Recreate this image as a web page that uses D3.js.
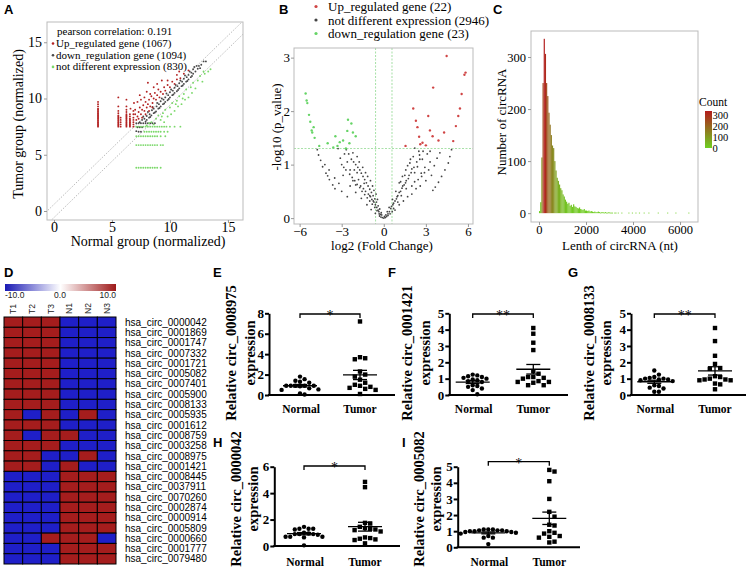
<!DOCTYPE html>
<html><head><meta charset="utf-8">
<script src="https://cdn.jsdelivr.net/npm/d3@7"></script>
<style>body{margin:0;background:#fff}svg{display:block}</style>
</head><body>
<svg id="c" width="748" height="570"></svg>
<script>
// ---------------- DATA ----------------
// Panel A: scatter (normal, tumor) normalized expression
const scatterUp = [[3.8,7.5],[3.8,7.6],[3.8,7.7],[3.8,7.8],[3.8,7.9],[3.8,8.0],[3.8,8.1],[3.8,8.2],[3.8,8.3],[3.8,8.4],[3.8,8.5],[3.8,8.6],[3.8,8.7],[3.8,8.8],[3.8,8.9],[3.8,9.0],[3.8,9.1],[3.8,9.3],[3.8,9.5],[3.8,9.7],
[5.55,7.5],[5.55,7.6],[5.55,7.7],[5.55,7.8],[5.55,7.9],[5.55,8.0],[5.55,8.1],[5.55,8.2],[5.55,8.3],[5.55,8.4],[5.55,8.5],[5.55,8.7],[5.55,8.9],[5.55,9.3],[5.55,10.1],
[5.75,7.5],[5.75,7.7],[5.75,7.9],[5.75,8.1],[5.75,8.3],
[6.25,7.5],[6.25,7.6],[6.25,7.7],[6.25,7.8],[6.25,7.9],[6.25,8.0],[6.25,8.1],[6.25,8.2],[6.25,8.3],[6.25,8.4],[6.25,8.5],[6.25,8.6],[6.25,8.8],[6.25,9.0],[6.25,9.3],[6.25,9.9],
[6.55,7.5],[6.55,7.6],[6.55,7.7],[6.55,7.8],[6.55,7.9],[6.55,8.0],[6.55,8.1],[6.55,8.2],[6.55,8.4],[6.55,8.6],
[6.85,7.5],[6.85,7.7],[6.85,7.9],[6.85,8.1],[6.85,8.3],[6.85,8.6],[6.85,8.9],
[7.1,8.1],[7.2,8.4],[7.3,8.8],[7.0,9.0],[7.4,9.2],[7.5,8.6],[7.6,9.0],[7.7,9.4],[7.8,8.9],[7.9,9.7],[8.0,9.2],[8.1,9.5],[8.2,9.9],[8.3,9.3],[8.4,10.2],[8.5,9.6],[8.6,10.0],[8.7,10.5],[8.8,9.9],[8.9,10.3],[9.0,10.8],[9.1,10.1],[9.2,10.6],[9.3,11.6],[9.4,10.4],[9.5,11.0],[9.6,10.7],[9.8,11.2],[10.0,11.0],[10.2,11.5],[10.4,11.3],[10.6,11.7],[10.9,11.8],[7.2,9.7],[7.5,9.9],[7.8,10.1],[8.0,10.6],[8.3,10.4],[8.6,11.0],[8.9,11.3],[7.0,8.6],[7.3,8.2],[7.6,8.3],[7.9,8.6],[8.2,8.9],[8.5,9.2],[6.9,9.6],[6.6,9.1],[7.4,10.3],[8.1,11.4],[9.8,11.6],[11.2,12.2],[11.6,12.5],[10.8,12.4],[10.6,12.1]];
const scatterDown = [[7.1,7.8],[7.3,7.8],[7.5,7.8],[7.7,7.8],[7.9,7.8],[8.1,7.8],[8.3,7.8],[8.5,7.8],[8.7,7.8],[7.2,7.45],[7.4,7.45],[7.6,7.45],[7.1,7.1],[7.3,7.05],[7.5,7.05],[7.4,7.9],[7.6,8.1],[7.8,8.2],[8.0,8.1],[8.0,8.45],[8.2,8.3],[8.25,8.6],[8.4,8.5],[8.45,8.95],[8.6,8.7],[8.6,9.1],[8.8,8.85],[8.85,9.3],[9.0,9.1],[9.05,9.5],[9.2,9.3],[9.2,9.75],[9.4,9.5],[9.45,9.9],[9.6,9.7],[9.6,10.1],[9.8,9.85],[9.85,10.3],[10.0,10.1],[10.0,10.55],[10.2,10.3],[10.25,10.7],[10.4,10.5],[10.4,10.95],[10.6,10.65],[10.65,11.1],[10.8,10.9],[10.8,11.35],[11.0,11.1],[11.05,11.5],[11.2,11.3],[11.2,11.75],[11.4,11.5],[11.45,11.9],[11.6,11.7],[11.6,12.1],[11.8,11.9],[11.85,12.3],[12.0,12.2],[12.0,12.6],[12.2,12.4],[12.4,12.65],[12.5,12.9],[12.7,13.0],[12.9,13.3],[13.1,13.3],[7.7,8.4],[8.1,8.8],[8.5,9.25],[8.9,9.6],[9.3,10.0],[9.7,10.45],[10.1,10.8],[10.5,11.2],[10.9,11.6],[11.3,12.05],[11.7,12.4],[12.1,12.8],[7.9,7.95],[8.3,8.35],[8.7,8.75],[9.1,9.15],[9.5,9.55],[9.9,9.95],[10.3,10.35],[10.7,10.75],[11.1,11.15],[11.5,11.55],[11.9,12.0],[12.3,12.9],[12.6,12.7]];
const scatterNot = [[7.1,7.5],[7.3,7.5],[7.5,7.5],[7.7,7.5],[7.9,7.5],[8.1,7.5],[8.3,7.5],[8.5,7.5],[8.7,7.5],[8.9,7.5],[9.1,7.5],[9.3,7.5],[9.5,7.5],[9.7,7.5],[10.0,7.5],[10.4,7.5],[10.9,7.5],
[7.8,7.05],[8.0,7.05],[8.2,7.05],[8.4,7.05],[8.6,7.05],[8.8,7.05],[9.0,7.05],[9.2,7.05],[9.5,7.05],[9.8,7.05],
[7.1,6.65],[7.3,6.65],[7.5,6.65],[7.7,6.65],[7.9,6.65],[8.1,6.65],[8.3,6.65],[8.5,6.65],[8.7,6.65],[8.9,6.65],[9.2,6.65],[9.6,6.65],
[7.1,5.86],[7.3,5.86],[7.5,5.86],[7.7,5.86],[7.9,5.86],[8.1,5.86],[8.3,5.86],[8.5,5.86],[8.7,5.86],[8.9,5.86],[9.2,5.86],[9.4,5.86],
[7.1,3.85],[7.3,3.85],[7.5,3.85],[7.7,3.85],[7.9,3.85],[8.1,3.85],[8.3,3.85],[8.5,3.85],[8.7,3.85],[8.9,3.85],[9.2,3.85],
[8.0,7.6],[8.4,7.9],[8.8,8.2],[9.0,8.5],[9.4,8.7],[9.6,9.0],[10.0,9.2],[10.2,9.6],[10.6,9.8],[10.8,10.2],[11.2,10.4],[11.4,10.8],[11.8,11.0],[12.0,11.4],[12.4,11.6],[12.6,12.0],[13.0,12.2],[13.3,12.4],[8.6,7.7],[9.2,8.1],[9.8,8.4],[10.4,8.9],[11.0,9.5],[11.6,10.1],[12.2,10.9],[9.5,7.9],[10.1,8.6],[10.7,9.3],[11.3,9.9],[11.9,10.5],[12.8,11.5],[8.2,7.8],[9.3,8.4],[10.5,9.5],[11.1,10.0],[13.5,12.6],[12.9,12.4]];

// Panel B: volcano (log2 FC, -log10 p)
const volcanoUp = [[4.48,3.03],[5.83,2.72],[5.75,2.68],[5.55,2.32],[3.52,2.44],[2.1,2.05],[2.29,1.82],[3.17,1.91],[5.43,2.05],[5.31,1.91],[5.14,1.72],[2.52,1.52],[3.48,1.53],[3.29,1.64],[2.76,1.41],[4.95,1.44],[1.55,1.35],[2.6,1.38],[3.0,1.36],[4.3,1.6],[3.9,1.45],[2.4,1.7]];
const volcanoDown = [[-5.57,2.33],[-5.5,2.2],[-5.45,2.15],[-5.33,1.93],[-5.24,1.8],[-5.14,1.64],[-5.1,1.6],[-4.93,1.5],[-3.45,1.53],[-3.14,1.42],[-2.9,1.45],[-2.55,1.84],[-2.31,1.77],[-2.6,1.63],[-2.0,1.53],[-2.45,1.4],[-3.3,1.35],[-4.0,1.4],[-2.2,1.6],[-5.0,1.7],[-4.6,1.35],[-2.7,1.3],[-3.6,1.32]];
const volcanoNs = [[-4.74,1.28],[-4.65,1.18],[-4.5,1.08],[-4.36,0.96],[-4.12,0.84],[-3.88,0.72],[-3.64,0.62],[-3.48,0.55],[-4.0,0.79],
[-3.26,1.3],[-3.1,1.12],[-3.0,1.0],[-2.85,0.95],[-2.7,0.9],[-2.43,0.82],[-2.25,0.76],[-2.07,0.7],[-1.9,0.63],[-1.71,0.57],[-1.55,0.5],[-1.36,0.44],[-1.18,0.38],[-1.0,0.32],[-0.82,0.26],[-0.64,0.2],[-0.48,0.14],[-0.33,0.08],
[-2.67,1.28],[-2.5,1.2],[-2.31,1.1],[-2.15,1.05],[-2.0,1.0],[-1.85,0.95],[-1.71,0.9],[-1.6,0.84],[-1.48,0.78],[-1.36,0.72],[-1.24,0.66],[-1.12,0.6],[-1.0,0.54],[-0.88,0.48],[-0.76,0.42],[-0.64,0.36],[-0.52,0.3],[-0.4,0.23],[-0.29,0.17],[-0.18,0.1],
[-2.2,1.22],[-1.9,1.15],[-1.75,1.05],[-1.5,0.95],[-1.3,0.85],[-1.15,0.78],[-0.95,0.7],[-0.8,0.6],[-0.7,0.52],[-0.55,0.45],[-0.45,0.35],[-2.4,0.6],[-2.0,0.48],[-1.6,0.37],[-1.2,0.25],[-0.9,0.16],[-0.6,0.09],[-3.0,0.5],[-2.6,0.4],
[-2.8,1.2],[-2.6,1.05],[-2.4,0.9],[-2.2,0.7],[-2.0,0.62],[-1.8,0.72],[-1.65,0.6],[-1.45,0.55],[-1.3,0.5],[-1.1,0.45],[-0.95,0.4],[-0.85,0.35],[-0.7,0.3],[-0.6,0.25],[-0.5,0.2],[-0.4,0.15],[-0.35,0.12],[-0.25,0.07],[-1.9,0.85],[-2.1,0.9],[-1.4,0.65],[-1.0,0.42],[-0.75,0.32],[-3.9,0.9],[-3.5,0.75],[-3.2,0.65],[-4.2,1.0],[-2.9,0.8],
[-0.3,0.04],[-0.2,0.02],[-0.1,0.01],[0,0],[0.1,0.01],[0.2,0.03],[0.3,0.05],[-0.15,0.06],[0.15,0.06],[0.05,0.03],
[2.21,1.31],[2.1,1.15],[1.86,1.03],[1.57,0.9],[1.33,0.78],[1.1,0.66],[0.86,0.5],[0.62,0.35],[0.38,0.2],[0.25,0.12],
[2.57,1.1],[2.93,0.95],[2.67,0.84],[2.4,0.96],[2.2,0.85],[2.0,0.92],[1.8,0.8],[1.6,0.7],[1.45,0.62],[1.3,0.56],[1.1,0.48],[0.95,0.4],[0.8,0.32],[0.65,0.25],[0.5,0.18],[3.1,1.2],[3.3,1.05],[2.8,1.25],[2.5,1.25],[3.0,0.7],[2.6,0.6],[2.3,0.55],[2.0,0.45],[1.7,0.4],[1.4,0.32],[1.1,0.25],[0.8,0.15],[1.9,1.1],[1.7,0.98],[1.5,0.8],[1.2,0.68],
[0.3,0.08],[0.4,0.12],[0.55,0.22],[0.7,0.28],[0.9,0.36],[1.0,0.42],[1.2,0.5],[1.35,0.6],[1.55,0.66],[1.75,0.74],[1.95,0.85],[2.15,0.95],[2.35,1.05],[2.55,1.18],[2.75,1.1],[2.45,0.72],[2.7,0.78],[2.9,0.85],[3.2,0.9],[3.4,0.8],[3.6,0.98],[3.8,1.12],[4.0,1.22],[3.3,1.25],[1.6,0.55],[1.0,0.3],[0.7,0.18],[2.0,0.6],[2.2,0.68],[1.25,0.42],[0.45,0.08],[0.6,0.12],
[4.83,1.28],[4.71,1.15],[4.6,1.03],[4.36,0.9],[4.12,0.78],[3.9,0.67],[3.67,0.58],[3.5,0.52]];

// Panel C: histogram of circRNA length (bins of 50 nt starting at 0)
const histBinWidth = 50;
const histCounts = [4,21,107,250,335,306,250,225,193,170,150,130,125,100,82,68,62,55,48,44,36,32,26,22,18,20,14,16,12,17,13,12,10,9,11,8,7,6,8,5,5,4,5,3,4,3,2,3,2,2,3,2,1,2,2,1,2,1,1,2,1,1,1,0,1,1,0,1,0,0,1,
0,0,0,0,0,1,0,0,1,0,0,1,0,0,1,0,0,0,1,0,0,0,1,0,0,0,0,0,0,0,1,0,0,0,0,0,0,0,1,0,0,0,0,0,0,1,0,0,0,0,0,0,0,0,0,0,1];

// Panel D: heatmap
const heatCols = ["T1","T2","T3","N1","N2","N3"];
const heatRows = ["hsa_circ_0000042","hsa_circ_0001869","hsa_circ_0001747","hsa_circ_0007332","hsa_circ_0001721","hsa_circ_0005082","hsa_circ_0007401","hsa_circ_0005900","hsa_circ_0008133","hsa_circ_0005935","hsa_circ_0001612","hsa_circ_0008759","hsa_circ_0003258","hsa_circ_0008975","hsa_circ_0001421","hsa_circ_0008445","hsa_circ_0037911","hsa_circ_0070260","hsa_circ_0002874","hsa_circ_0000914","hsa_circ_0005809","hsa_circ_0000660","hsa_circ_0001777","hsa_circ_0079480"];
const heatValues = [
[10,10,10,-10,-10,-10],[10,10,10,-10,-10,-10],[10,10,10,-10,-10,-10],[10,10,10,-10,-10,-10],[10,10,10,-10,-10,-10],[10,10,10,-10,-10,-10],[10,10,10,-10,-10,-10],[10,10,10,-10,-10,-10],[10,10,10,-10,-10,-10],
[10,-10,10,-10,10,-10],[10,10,10,-10,-10,-10],[10,-10,10,10,-10,-10],[10,10,10,-10,-10,-10],[10,10,-10,-10,10,-10],[10,10,-10,10,-10,-10],
[-10,-10,-10,10,10,10],[-10,-10,-10,10,10,10],[-10,-10,-10,10,10,10],[-10,-10,-10,10,10,10],[-10,-10,-10,10,10,10],[-10,-10,-10,10,10,10],[-10,-10,10,10,10,-10],[-10,-10,-10,10,10,10],[-10,-10,-10,10,10,10]];
const heatTicks = ["-10.0","0.0","10.0"];

// Panels E-I: relative expression
const geneE = "0008975", normalE = [1.8,1.55,1.4,1.3,1.2,0.9,0.9,0.9,0.9,0.9,0.85,0.65,0.55,0.5,0.15,0.05], tumorE = [7.2,3.7,3.6,3.5,2.3,2.0,1.8,1.5,1.2,1.0,0.9,0.7,0.8,0.6,0.5,0.1];
const geneF = "0001421", normalF = [1.25,1.2,1.15,1.1,1.05,1.0,0.95,0.9,0.85,0.8,0.6,0.55,0.5,0.4,0.3,0.05], tumorF = [4.1,3.75,3.2,2.75,1.45,1.3,1.1,1.1,1.05,1.0,0.85,0.8,0.8,0.75,0.6,0.6];
const geneG = "0008133", normalG = [1.5,1.25,1.1,1.05,1.0,1.0,0.95,0.95,0.9,0.85,0.6,0.55,0.45,0.4,0.2,0.2], tumorG = [4.1,3.3,2.4,1.9,1.65,1.6,1.15,1.1,1.0,0.95,0.95,0.9,0.7,0.65,0.35,0.9];
const geneH = "0000042", normalH = [1.45,1.3,1.3,1.3,1.25,1.0,0.95,0.9,0.9,0.9,0.85,0.7,0.7,0.7,0.65,0.05], tumorH = [4.85,4.45,1.75,1.7,1.45,1.35,1.3,1.25,1.2,1.1,0.65,0.6,0.55,0.5,0.45,0.2];
const geneI = "0005082", normalI = [1.1,1.1,1.1,1.05,1.05,1.05,1.0,1.0,1.0,0.95,0.95,0.9,0.85,0.7,0.6,0.6,0.2], tumorI = [4.8,4.7,4.1,3.0,2.2,1.9,1.4,1.35,1.0,0.9,0.85,0.7,0.65,0.6,0.35,0.3];
const groupLabels = ["Normal","Tumor"];

// ---------------- DRAWING ----------------
const serif = "'Liberation Serif','Times New Roman',serif";
const sans = "'Liberation Sans',Arial,sans-serif";
const svg = d3.select('#c');
const defs = svg.append('defs');
const intFmt = d3.format('d');

function label(t, x, y) {
  svg.append('text').attr('x', x).attr('y', y).text(t)
    .attr('font-family', sans).attr('font-weight', 'bold').attr('font-size', 13);
}
function thinAxis(sel, fs, side, off) {
  sel.attr('font-family', serif);
  sel.select('.domain').remove();
  sel.selectAll('.tick line').attr('stroke', '#999');
  const t = sel.selectAll('.tick text').attr('font-family', serif).attr('font-size', fs).attr('fill', '#000');
  if (side === 'b') t.attr('y', off);
  else t.attr('x', -off);
}
function rotTitle(t, x, y, fs, bold) {
  svg.append('text').attr('transform', `translate(${x},${y}) rotate(-90)`).attr('text-anchor', 'middle')
    .attr('font-family', serif).attr('font-size', fs).attr('font-weight', bold ? 'bold' : 'normal').text(t);
}

// ---- Panel A ----
label('A', 4, 14);
{
  const x = d3.scaleLinear().domain([-0.6, 16.3]).range([47, 243]);
  const y = d3.scaleLinear().domain([-0.8, 16.8]).range([220, 22]);
  defs.append('clipPath').attr('id', 'clipA').append('rect').attr('x', 47).attr('y', 22).attr('width', 196).attr('height', 198);
  const g = svg.append('g');
  [0.585, -0.585].forEach(o => {
    g.append('line').attr('clip-path', 'url(#clipA)')
      .attr('x1', x(-2)).attr('y1', y(-2 + o)).attr('x2', x(18)).attr('y2', y(18 + o))
      .attr('stroke', '#aaa').attr('stroke-width', 0.8).attr('stroke-dasharray', '1.5,1.5');
  });
  const pts = (arr, col) => g.append('g').selectAll('circle').data(arr).join('circle')
    .attr('cx', d => x(d[0])).attr('cy', d => y(d[1])).attr('r', 0.95).attr('fill', col);
  pts(scatterDown, '#4a4a4a');
  pts(scatterNot, '#7bd86a');
  pts(scatterUp, '#b32222');
  g.append('rect').attr('x', 47).attr('y', 22).attr('width', 196).attr('height', 198).attr('fill', 'none').attr('stroke', '#bbb');
  g.append('g').attr('transform', 'translate(47,0)').call(d3.axisLeft(y).tickValues([0, 5, 10, 15]).tickFormat(intFmt).tickSize(3).tickSizeOuter(0)).call(thinAxis, 14, 'l', 5);
  g.append('g').attr('transform', 'translate(0,220)').call(d3.axisBottom(x).tickValues([0, 5, 10, 15]).tickFormat(intFmt).tickSize(3).tickSizeOuter(0)).call(thinAxis, 14, 'b', 2.5);
  rotTitle('Tumor group (normalized)', 23, 124, 14);
  svg.append('text').attr('x', 148).attr('y', 246).attr('text-anchor', 'middle').attr('font-family', serif).attr('font-size', 14).text('Normal group (normalized)');
  const lg = g.append('g').attr('font-family', serif).attr('font-size', 11);
  lg.append('text').attr('x', 57).attr('y', 35).text('pearson correlation: 0.191');
  [['Up_regulated gene (1067)', '#b32222'], ['down_regulation gene (1094)', '#4a4a4a'], ['not different expression (830)', '#7bd86a']].forEach((e, i) => {
    lg.append('circle').attr('cx', 53).attr('cy', 43.5 + i * 11.7).attr('r', 1.3).attr('fill', e[1]);
    lg.append('text').attr('x', 56).attr('y', 47 + i * 11.7).text(e[0]);
  });
}

// ---- Panel B ----
label('B', 279, 14);
{
  const x = d3.scaleLinear().domain([-6.4, 6.36]).range([294, 473]);
  const y = d3.scaleLinear().domain([-0.11, 3.18]).range([224, 48]);
  const g = svg.append('g');
  const dl = (x1, y1, x2, y2) => g.append('line').attr('x1', x1).attr('y1', y1).attr('x2', x2).attr('y2', y2)
    .attr('stroke', '#8fd88f').attr('stroke-width', 0.8).attr('stroke-dasharray', '2,1.5');
  dl(x(-0.585), 48, x(-0.585), 224); dl(x(0.585), 48, x(0.585), 224);
  dl(294, y(1.301), 473, y(1.301));
  const pts = (arr, col, r) => g.append('g').selectAll('circle').data(arr).join('circle')
    .attr('cx', d => x(d[0])).attr('cy', d => y(d[1])).attr('r', r).attr('fill', col);
  pts(volcanoNs, '#444', 0.9);
  pts(volcanoUp, '#d04545', 1.2);
  pts(volcanoDown, '#66d466', 1.2);
  g.append('rect').attr('x', 294).attr('y', 48).attr('width', 179).attr('height', 176).attr('fill', 'none').attr('stroke', '#bbb');
  g.append('g').attr('transform', 'translate(294,0)').call(d3.axisLeft(y).tickValues([0, 1, 2, 3]).tickFormat(intFmt).tickSize(3).tickSizeOuter(0)).call(thinAxis, 13, 'l', 4);
  g.append('g').attr('transform', 'translate(0,224)').call(d3.axisBottom(x).tickValues([-6, -3, 0, 3, 6]).tickFormat(intFmt).tickSize(3).tickSizeOuter(0)).call(thinAxis, 13, 'b', 3);
  rotTitle('-log10 (p_value)', 281, 127, 13);
  svg.append('text').attr('x', 382).attr('y', 250).attr('text-anchor', 'middle').attr('font-family', serif).attr('font-size', 13).text('log2 (Fold Change)');
  [['Up_regulated gene (22)', '#d04545'], ['not different expression (2946)', '#444'], ['down_regulation gene (23)', '#66d466']].forEach((e, i) => {
    g.append('circle').attr('cx', 316).attr('cy', 6.5 + i * 13.5).attr('r', 1.6).attr('fill', e[1]);
    g.append('text').attr('x', 328).attr('y', 11 + i * 13.5).attr('font-family', serif).attr('font-size', 13).text(e[0]);
  });
}

// ---- Panel C ----
label('C', 493, 14);
{
  const x = d3.scaleLinear().domain([-340, 6765]).range([531, 698]);
  const y = d3.scaleLinear().domain([-17, 350]).range([222, 31]);
  const maxC = d3.max(histCounts);
  const col = d3.scaleLinear().domain([0, maxC]).range(['#6fcf22', '#b31c1c']);
  const g = svg.append('g');
  const bins = histCounts.map((c, i) => ({ x0: i * histBinWidth, x1: (i + 1) * histBinWidth, c })).filter(d => d.c > 0);
  g.selectAll('rect.bar').data(bins).join('rect').attr('class', 'bar')
    .attr('x', d => x(d.x0)).attr('width', d => Math.max(0.8, x(d.x1) - x(d.x0)))
    .attr('y', d => y(d.c)).attr('height', d => Math.max(0.8, y(0) - y(d.c))).attr('fill', d => col(d.c));
  g.append('rect').attr('x', 531).attr('y', 31).attr('width', 167).attr('height', 191).attr('fill', 'none').attr('stroke', '#bbb');
  g.append('g').attr('transform', 'translate(531,0)').call(d3.axisLeft(y).tickValues([0, 100, 200, 300]).tickFormat(intFmt).tickSize(3).tickSizeOuter(0)).call(thinAxis, 12.5, 'l', 5);
  g.append('g').attr('transform', 'translate(0,222)').call(d3.axisBottom(x).tickValues([0, 2000, 4000, 6000]).tickFormat(intFmt).tickSize(3).tickSizeOuter(0)).call(thinAxis, 12.5, 'b', 3);
  rotTitle('Number of circRNA', 506, 122, 13);
  svg.append('text').attr('x', 620).attr('y', 250).attr('text-anchor', 'middle').attr('font-family', serif).attr('font-size', 13).text('Lenth of circRNA (nt)');
  // legend
  const grad = defs.append('linearGradient').attr('id', 'gradC').attr('x1', 0).attr('y1', 1).attr('x2', 0).attr('y2', 0);
  grad.append('stop').attr('offset', '0%').attr('stop-color', col(0));
  grad.append('stop').attr('offset', '100%').attr('stop-color', col(maxC));
  const ly = d3.scaleLinear().domain([0, maxC]).range([148, 111]);
  g.append('text').attr('x', 699).attr('y', 105.5).attr('font-family', serif).attr('font-size', 11.5).text('Count');
  g.append('rect').attr('x', 705).attr('y', ly(maxC)).attr('width', 7).attr('height', ly(0) - ly(maxC)).attr('fill', 'url(#gradC)');
  [0, 100, 200, 300].forEach(v => {
    g.append('text').attr('x', 712.5).attr('y', ly(v) + 3.8).attr('font-family', serif).attr('font-size', 10.5).text(v);
  });
}

// ---- Panel D ----
label('D', 4, 277);
{
  const x = d3.scaleBand().domain(heatCols).range([4, 116]);
  const y = d3.scaleBand().domain(heatRows).range([317, 564]);
  const col = d3.scaleLinear().domain([-10, 0, 10]).range(['#1f1fc8', '#ffffff', '#a51d1d']);
  const g = svg.append('g');
  const grad = defs.append('linearGradient').attr('id', 'gradD');
  [['0%', '#1a1ab4'], ['50%', '#ffffff'], ['100%', '#9e1a1a']].forEach(s => grad.append('stop').attr('offset', s[0]).attr('stop-color', s[1]));
  g.append('rect').attr('x', 5).attr('y', 284).attr('width', 111).attr('height', 7).attr('fill', 'url(#gradD)');
  const tf = g.append('g').attr('font-family', sans).attr('font-size', 8.5).attr('fill', '#222');
  tf.append('text').attr('x', 5).attr('y', 298).text(heatTicks[0]);
  tf.append('text').attr('x', 60).attr('y', 298).attr('text-anchor', 'middle').text(heatTicks[1]);
  tf.append('text').attr('x', 116).attr('y', 298).attr('text-anchor', 'end').text(heatTicks[2]);
  heatCols.forEach(c => {
    tf.append('text').attr('transform', `translate(${x(c) + x.bandwidth() / 2 + 3},314) rotate(-90)`).text(c);
  });
  heatRows.forEach((r, i) => {
    heatCols.forEach((c, j) => {
      g.append('rect').attr('x', x(c)).attr('y', y(r)).attr('width', x.bandwidth()).attr('height', y.bandwidth())
        .attr('fill', col(heatValues[i][j])).attr('stroke', '#000').attr('stroke-width', 1);
    });
    g.append('text').attr('x', 125).attr('y', y(r) + y.bandwidth() / 2 + 3.6).attr('font-family', sans).attr('font-size', 10).text(r);
  });
}

// ---- Panels E-I ----
function swarm(vals, ys, cx, s) {
  const placed = [];
  const order = vals.map(v => ({ v, py: ys(v) })).sort((a, b) => b.v - a.v);
  order.forEach(p => {
    for (let k = 0; k < 60; k++) {
      const px = cx + (k % 2 ? 1 : -1) * Math.ceil(k / 2) * s;
      if (!placed.some(q => Math.abs(q.px - px) < s - 0.01 && Math.abs(q.py - p.py) < s - 0.01)) { p.px = px; break; }
    }
    placed.push(p);
  });
  return placed;
}
function dotPanel(cfg, normal, tumor, gene, stars) {
  const g = svg.append('g');
  const y = d3.scaleLinear().domain([0, cfg.ymax]).range([cfg.y0, cfg.ytop]);
  const ax = g.append('g').attr('transform', `translate(${cfg.ax},0)`)
    .call(d3.axisLeft(y).tickValues(d3.range(0, cfg.ymax + 0.001, cfg.step)).tickFormat(intFmt).tickSize(4).tickSizeOuter(0));
  ax.select('.domain').attr('stroke', '#000').attr('stroke-width', 2);
  ax.selectAll('.tick line').attr('stroke', '#000').attr('stroke-width', 2);
  ax.selectAll('.tick text').attr('font-family', serif).attr('font-weight', 'bold').attr('font-size', 13).attr('fill', '#000').attr('x', -5);
  g.append('line').attr('x1', cfg.ax - 1).attr('x2', cfg.xend).attr('y1', cfg.y0).attr('y2', cfg.y0).attr('stroke', '#000').attr('stroke-width', 2);
  [[normal, cfg.cn, 'c'], [tumor, cfg.ct, 's']].forEach(([vals, cx, shape], gi) => {
    const pts = swarm(vals, y, cx, shape === 'c' ? 4.6 : 5.2);
    if (shape === 'c') g.selectAll(null).data(pts).join('circle').attr('cx', d => d.px).attr('cy', d => d.py).attr('r', 2.2).attr('fill', '#000');
    else g.selectAll(null).data(pts).join('rect').attr('x', d => d.px - 2.2).attr('y', d => d.py - 2.2).attr('width', 4.4).attr('height', 4.4).attr('fill', '#000');
    const m = d3.mean(vals), se = d3.deviation(vals) / Math.sqrt(vals.length);
    const ln = (x1, y1, x2, y2) => g.append('line').attr('x1', x1).attr('y1', y1).attr('x2', x2).attr('y2', y2).attr('stroke', '#000').attr('stroke-width', 1.3);
    ln(cx - 17, y(m), cx + 17, y(m));
    ln(cx, y(m - se), cx, y(m + se));
    ln(cx - 7, y(m - se), cx + 7, y(m - se));
    ln(cx - 7, y(m + se), cx + 7, y(m + se));
    g.append('text').attr('x', cx + (gi ? 0 : 1)).attr('y', cfg.ly).attr('text-anchor', 'middle').attr('font-family', serif)
      .attr('font-weight', 'bold').attr('font-size', 11.5).attr('fill', '#000').text(groupLabels[gi]);
  });
  const by = cfg.by;
  g.append('path').attr('d', `M${cfg.cn},${by + 4}V${by}H${cfg.ct}V${by + 4}`).attr('fill', 'none').attr('stroke', '#000').attr('stroke-width', 1.3);
  g.append('text').attr('x', (cfg.cn + cfg.ct) / 2).attr('y', by + 6).attr('text-anchor', 'middle').attr('font-family', serif).attr('font-size', 14).attr('fill', '#000').text(stars);
  svg.append('text').attr('transform', `translate(${cfg.t1},${cfg.tc}) rotate(-90)`).attr('text-anchor', 'middle')
    .attr('font-family', serif).attr('font-weight', 'bold').attr('font-size', 14.5).attr('fill', '#000').text('Relative circ_' + gene);
  svg.append('text').attr('transform', `translate(${cfg.t2},${cfg.tc}) rotate(-90)`).attr('text-anchor', 'middle')
    .attr('font-family', serif).attr('font-weight', 'bold').attr('font-size', 14.5).attr('fill', '#000').text('expression');
}
label('E', 213, 277);
dotPanel({ ax: 269, y0: 395, ytop: 313.3, ymax: 8, step: 2, cn: 300, ct: 360, xend: 395, by: 314, ly: 413, t1: 236, t2: 255, tc: 353 }, normalE, tumorE, geneE, '*');
label('F', 388, 277);
dotPanel({ ax: 449.3, y0: 395, ytop: 313.3, ymax: 5, step: 1, cn: 472.7, ct: 533.3, xend: 568, by: 314, ly: 413, t1: 412, t2: 430, tc: 353 }, normalF, tumorF, geneF, '**');
label('G', 568, 277);
dotPanel({ ax: 631, y0: 395, ytop: 313.3, ymax: 5, step: 1, cn: 654.3, ct: 715, xend: 746, by: 314, ly: 413, t1: 594, t2: 611, tc: 353 }, normalG, tumorG, geneG, '**');
label('H', 213, 447);
dotPanel({ ax: 274.3, y0: 546, ytop: 466.7, ymax: 6, step: 2, cn: 304, ct: 365, xend: 400, by: 466, ly: 566, t1: 241, t2: 258, tc: 499 }, normalH, tumorH, geneH, '*');
label('I', 402, 447);
dotPanel({ ax: 457.7, y0: 547.3, ytop: 466.7, ymax: 5, step: 1, cn: 488.3, ct: 549.3, xend: 580, by: 461.7, ly: 566, t1: 424, t2: 441, tc: 499 }, normalI, tumorI, geneI, '*');
</script>
</body></html>
